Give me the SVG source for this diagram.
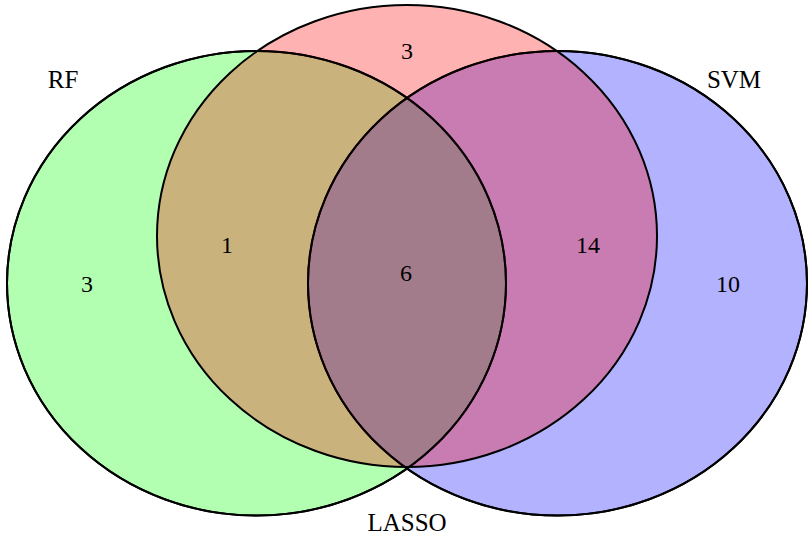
<svg xmlns="http://www.w3.org/2000/svg" width="810" height="538" viewBox="0 0 810 538">
<style>
.set{stroke:#000;stroke-width:2;fill-opacity:0.3}
.lbl{font-family:"Liberation Serif","Times New Roman",serif;font-size:25px;fill:#000;text-anchor:middle}
.num{font-family:"Liberation Serif","Times New Roman",serif;font-size:24px;fill:#000;text-anchor:middle}
</style>
<rect width="810" height="538" fill="#fff"/>
<g id="RF"><ellipse class="set" cx="256.5" cy="283.3" rx="249.5" ry="232.3" fill="#00ff00"/></g>
<g id="SVM"><ellipse class="set" cx="557.5" cy="283.3" rx="249.5" ry="232.3" fill="#0000ff"/></g>
<g id="LASSO"><ellipse class="set" cx="407" cy="236" rx="250" ry="231" fill="#ff0000"/></g>
<g id="outlines" fill="none" stroke="#000" stroke-width="2">
<ellipse cx="256.5" cy="283.3" rx="249.5" ry="232.3"/>
<ellipse cx="557.5" cy="283.3" rx="249.5" ry="232.3"/>
</g>
<g id="labels">
<text class="lbl" x="63" y="88">RF</text>
<text class="lbl" x="734" y="88">SVM</text>
<text class="lbl" x="407" y="531">LASSO</text>
</g>
<g id="counts">
<text class="num" x="407" y="59">3</text>
<text class="num" x="87" y="292">3</text>
<text class="num" x="227" y="253">1</text>
<text class="num" x="406" y="281">6</text>
<text class="num" x="588" y="253">14</text>
<text class="num" x="728" y="292">10</text>
</g>
</svg>
